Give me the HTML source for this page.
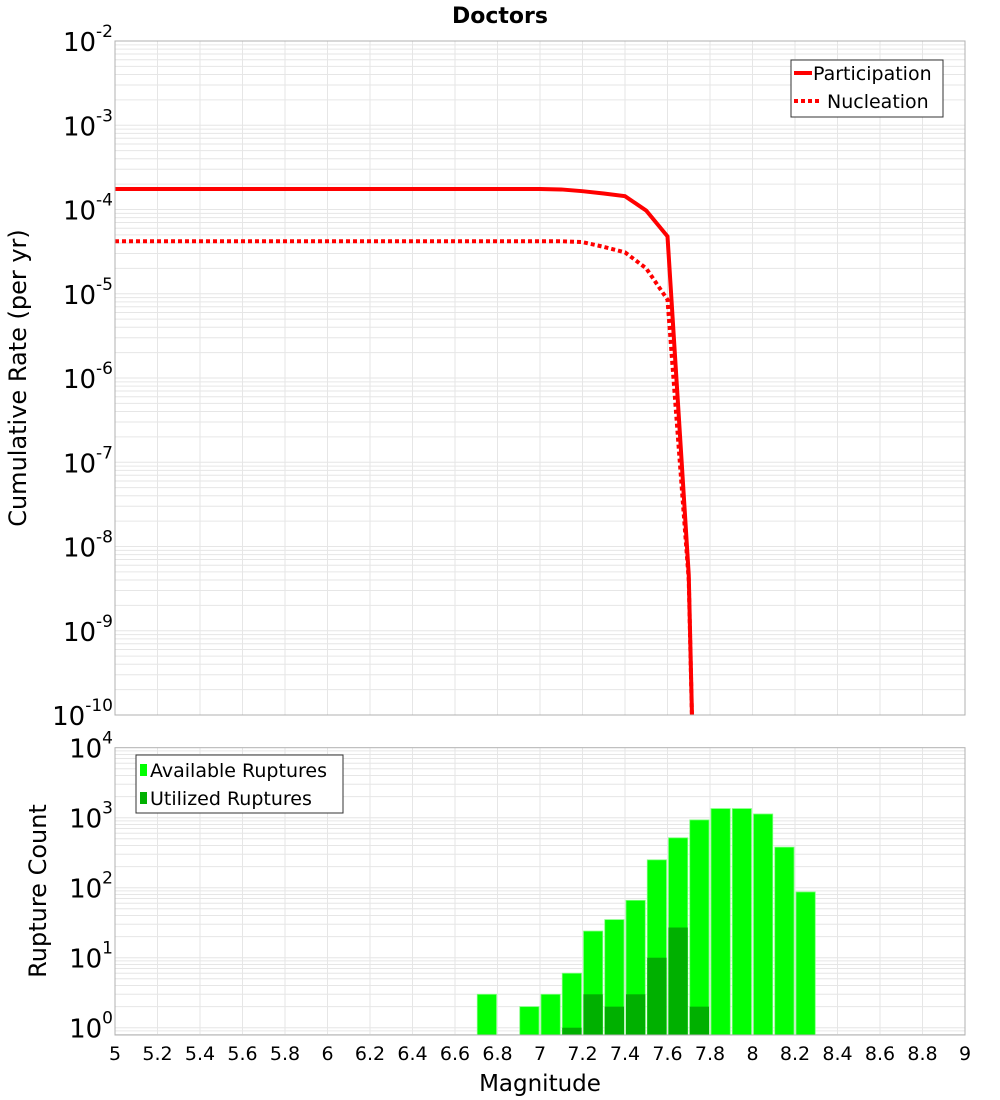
<!DOCTYPE html>
<html><head><meta charset="utf-8"><style>
body{margin:0;background:#fff;}
svg{display:block;font-family:"DejaVu Sans","Liberation Sans",sans-serif;}
</style></head><body>
<svg id="c" width="1000" height="1100" viewBox="0 0 1000 1100"></svg>
<script>
const mags=[5.0,5.5,6.0,6.5,7.0,7.1,7.2,7.3,7.4,7.5,7.6,7.7,7.75];
const participation=[1.75e-4,1.75e-4,1.75e-4,1.75e-4,1.75e-4,1.73e-4,1.65e-4,1.55e-4,1.44e-4,9.7e-5,4.8e-5,4.6e-9,1.5e-14];
const nucleation=[4.2e-5,4.2e-5,4.2e-5,4.2e-5,4.2e-5,4.2e-5,4.1e-5,3.6e-5,3.1e-5,2.0e-5,8.5e-6,4.0e-9,1.5e-14];
const binCenters=[6.75,6.85,6.95,7.05,7.15,7.25,7.35,7.45,7.55,7.65,7.75,7.85,7.95,8.05,8.15,8.25];
const available=[3,0,2,3,6,24,35,66,250,516,930,1350,1350,1130,380,87];
const utilized=[0,0,0,0,1,3,2,3,10,27,2,0,0,0,0,0];
const xTicks=[5,5.2,5.4,5.6,5.8,6,6.2,6.4,6.6,6.8,7,7.2,7.4,7.6,7.8,8,8.2,8.4,8.6,8.8,9];
const topExps=[-2,-3,-4,-5,-6,-7,-8,-9,-10];
const botExps=[4,3,2,1,0];

const NS='http://www.w3.org/2000/svg';
const svg=document.getElementById('c');
function el(t,a,p){const e=document.createElementNS(NS,t);for(const k in a)e.setAttribute(k,a[k]);(p||svg).appendChild(e);return e;}
const L=115,R=965;
const x=m=>L+(m-5)/4*(R-L);
const T1=41,B1=715;
const y1=v=>T1+(-2-Math.log10(v))*(B1-T1)/8;
const T2=747.7,D2=70;
const y2=v=>T2+(4-Math.log10(v))*D2;
const B2=1035;

const defs=el('defs',{});
const cp1=el('clipPath',{id:'cp1'},defs);el('rect',{x:L,y:T1,width:R-L,height:B1-T1},cp1);
const cp2=el('clipPath',{id:'cp2'},defs);el('rect',{x:L,y:T2,width:R-L,height:B2-T2},cp2);

function grid(top,bot,yf,e0,e1,name){
  const g=el('g',{stroke:'#e6e6e6','stroke-width':1});
  
  
  for(const t of xTicks){el('line',{x1:x(t),x2:x(t),y1:top,y2:bot},g);}
  for(let e=e0;e<=e1;e++){for(let k=1;k<10;k++){const yy=yf(k*Math.pow(10,e));if(yy>=top-0.5&&yy<=bot+0.5)el('line',{x1:L,x2:R,y1:yy,y2:yy},g);}}
}
grid(T1,B1,y1,-10,-3,'top-grid');
grid(T2,B2,y2,-1,3,'bottom-grid');

let t=el('text',{x:500,y:23,'text-anchor':'middle','font-size':22,'font-weight':'bold'});t.textContent='Doctors';


function line(arr,dash,name){
  const d=mags.map((m,i)=>(i?'L':'M')+x(m).toFixed(2)+','+y1(arr[i]).toFixed(2)).join(' ');
  const p=el('path',{d:d,fill:'none',stroke:'#ff0000','stroke-width':4,'clip-path':'url(#cp1)'});
  if(dash)p.setAttribute('stroke-dasharray','4,3');
  
}
line(nucleation,true,'nucleation-line');
line(participation,false,'participation-line');

const bw=(x(0.1+5)-x(5));
binCenters.forEach((c,i)=>{
  if(available[i]>0){const yy=y2(available[i]);const r=el('rect',{x:x(c)-bw/2+1,y:yy,width:bw-2,height:B2-yy,fill:'#00ff00',stroke:'#7dff7d','stroke-width':0.8,'clip-path':'url(#cp2)'});
  }
  if(utilized[i]>0){const yy=y2(utilized[i]);const r=el('rect',{x:x(c)-bw/2+1,y:yy,width:bw-2,height:B2-yy,fill:'#00b000','clip-path':'url(#cp2)'});
  }
});

el('rect',{x:L,y:T1,width:R-L,height:B1-T1,fill:'none',stroke:'#b0b0b0'});
el('rect',{x:L,y:T2,width:R-L,height:B2-T2,fill:'none',stroke:'#b0b0b0'});

function ylabels(exps,yf,name){
  for(const e of exps){const yy=yf(Math.pow(10,e));
    const tx=el('text',{x:113,y:yy+10,'text-anchor':'end','font-size':26});
    
    const a=el('tspan',{},tx);a.textContent='10';
    const b=el('tspan',{'font-size':17,dy:-14},tx);b.textContent=String(e);
  }
}
ylabels(topExps,y1,'top-y-tick');
ylabels(botExps,y2,'bottom-y-tick');

for(const tk of xTicks){const tx=el('text',{x:x(tk),y:1060,'text-anchor':'middle','font-size':19});
  tx.textContent=String(tk);}

t=el('text',{x:540,y:1091,'text-anchor':'middle','font-size':23});t.textContent='Magnitude';

t=el('text',{x:0,y:0,'text-anchor':'middle','font-size':24,transform:'translate(26,378) rotate(-90)'});t.textContent='Cumulative Rate (per yr)';

t=el('text',{x:0,y:0,'text-anchor':'middle','font-size':24,transform:'translate(46,891) rotate(-90)'});t.textContent='Rupture Count';


let lg=el('g',{});
el('rect',{x:791,y:60,width:152,height:57,fill:'#fff',stroke:'#333'},lg);
el('line',{x1:794,x2:812,y1:73,y2:73,stroke:'#f00','stroke-width':4},lg);
el('line',{x1:794,x2:820,y1:101,y2:101,stroke:'#f00','stroke-width':4,'stroke-dasharray':'4,3'},lg);
t=el('text',{x:813,y:80,'font-size':19},lg);t.textContent='Participation';
t=el('text',{x:827,y:108,'font-size':19},lg);t.textContent='Nucleation';

lg=el('g',{});
el('rect',{x:136,y:755,width:207,height:58,fill:'#fff',stroke:'#333'},lg);
el('rect',{x:140,y:764,width:7,height:12,fill:'#00ff00'},lg);
el('rect',{x:140,y:792,width:7,height:12,fill:'#00b000'},lg);
t=el('text',{x:150,y:777,'font-size':19},lg);t.textContent='Available Ruptures';
t=el('text',{x:150,y:805,'font-size':19},lg);t.textContent='Utilized Ruptures';
</script>
</body></html>
